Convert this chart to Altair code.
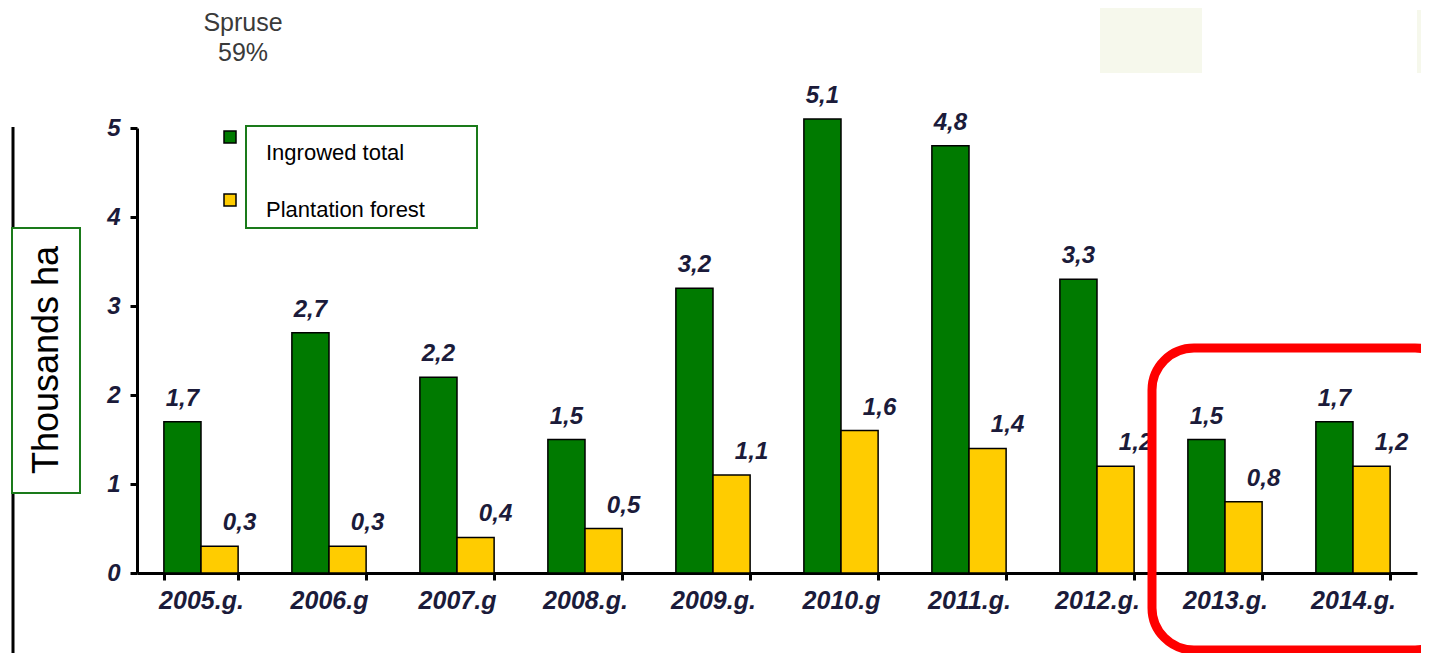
import altair as alt
import pandas as pd

years = ["2005.g.", "2006.g", "2007.g", "2008.g.", "2009.g.", "2010.g", "2011.g.", "2012.g.", "2013.g.", "2014.g."]
ingrowed = [1.7, 2.7, 2.2, 1.5, 3.2, 5.1, 4.8, 3.3, 1.5, 1.7]
plantation = [0.3, 0.3, 0.4, 0.5, 1.1, 1.6, 1.4, 1.2, 0.8, 1.2]
series_names = ["Ingrowed total", "Plantation forest"]
series_colors = ["#007a00", "#ffcc00"]
y_ticks = [0, 1, 2, 3, 4, 5]

rows = []
for yr, a, b in zip(years, ingrowed, plantation):
    rows.append({"year": yr, "series": series_names[0], "value": a, "label": f"{a:.1f}".replace(".", ",")})
    rows.append({"year": yr, "series": series_names[1], "value": b, "label": f"{b:.1f}".replace(".", ",")})
df = pd.DataFrame(rows)

NUM_FONT = "Liberation Sans, Arial, sans-serif"
TXT_FONT = "Liberation Sans, Arial, sans-serif"
NUM_COLOR = "#1b1b3a"

x_enc = alt.X("year:N", sort=years,
              scale=alt.Scale(paddingInner=0.42, paddingOuter=0.21),
              axis=alt.Axis(title=None, labelAngle=0, tickBand="extent",
                            domainWidth=3, domainColor="black", tickWidth=3, tickColor="black",
                            tickSize=7, labelFont=NUM_FONT, labelFontSize=25, labelFontWeight="bold",
                            labelFontStyle="italic", labelColor=NUM_COLOR, labelPadding=8))
y_enc = alt.Y("value:Q", scale=alt.Scale(domain=[0, 5], nice=False),
              axis=alt.Axis(title=None, values=y_ticks, grid=False, domainWidth=3, domainColor="black",
                            tickWidth=3, tickColor="black", tickSize=7, labelFont=NUM_FONT,
                            labelFontSize=24, labelFontWeight="bold", labelFontStyle="italic",
                            labelColor=NUM_COLOR, labelPadding=10))
xoff = alt.XOffset("series:N", sort=series_names, scale=alt.Scale(paddingInner=0, paddingOuter=0))
color = alt.Color("series:N", sort=series_names,
                  scale=alt.Scale(domain=series_names, range=series_colors), legend=None)

base = alt.Chart(df)

bars = base.mark_bar(stroke="black", strokeWidth=1.5).encode(x=x_enc, y=y_enc, xOffset=xoff, color=color)

lab_green = base.transform_filter(alt.datum.series == series_names[0]).mark_text(
    font=NUM_FONT, fontSize=24, fontWeight="bold", fontStyle="italic", color=NUM_COLOR,
    baseline="alphabetic", dy=-16).encode(x=x_enc, y=y_enc, xOffset=xoff, text="label:N")
lab_yellow = base.transform_filter(alt.datum.series == series_names[1]).mark_text(
    font=NUM_FONT, fontSize=24, fontWeight="bold", fontStyle="italic", color=NUM_COLOR,
    baseline="alphabetic", dy=-16, dx=20).encode(x=x_enc, y=y_enc, xOffset=xoff, text="label:N")

one = alt.Data(values=[{}])

# faint background shapes (top right)
bg1 = alt.Chart(one).mark_rect(color="#f6f8ec").encode(
    x=alt.value(963), x2=alt.value(1065), y=alt.value(-128), y2=alt.value(-55))
bg2 = alt.Chart(one).mark_rect(color="#f6f8ec").encode(
    x=alt.value(1280), x2=alt.value(1300), y=alt.value(-118), y2=alt.value(-55))

# title text
title1 = alt.Chart(one).mark_text(text="Spruse", font=TXT_FONT, fontSize=25, color="#3a3a3a",
                                  align="center", baseline="alphabetic").encode(
    x=alt.value(106), y=alt.value(-97))
title2 = alt.Chart(one).mark_text(text="59%", font=TXT_FONT, fontSize=25, color="#3a3a3a",
                                  align="center", baseline="alphabetic").encode(
    x=alt.value(106), y=alt.value(-67))

# left frame line
frame = alt.Chart(one).mark_rule(color="black", strokeWidth=3).encode(
    x=alt.value(-124), y=alt.value(-1), y2=alt.value(540))

# y-title box
ybox = alt.Chart(one).mark_rect(fill="white", stroke="#1a7a1a", strokeWidth=2).encode(
    x=alt.value(-125), x2=alt.value(-57), y=alt.value(100), y2=alt.value(365))
ytitle = alt.Chart(one).mark_text(text="Thousands ha", font=TXT_FONT, fontSize=36, color="black",
                                  angle=270, align="center", baseline="middle").encode(
    x=alt.value(-90), y=alt.value(232))

# legend
leg_box = alt.Chart(one).mark_rect(fill="white", stroke="#1a7a1a", strokeWidth=2).encode(
    x=alt.value(109), x2=alt.value(340), y=alt.value(-2), y2=alt.value(100))
leg_sq1 = alt.Chart(one).mark_rect(fill=series_colors[0], stroke="black", strokeWidth=1.5).encode(
    x=alt.value(87), x2=alt.value(99), y=alt.value(3), y2=alt.value(15))
leg_sq2 = alt.Chart(one).mark_rect(fill=series_colors[1], stroke="black", strokeWidth=1.5).encode(
    x=alt.value(87), x2=alt.value(99), y=alt.value(66), y2=alt.value(78))
leg_t1 = alt.Chart(one).mark_text(text=series_names[0], font=TXT_FONT, fontSize=22, color="black",
                                  align="left", baseline="middle").encode(x=alt.value(129), y=alt.value(25))
leg_t2 = alt.Chart(one).mark_text(text=series_names[1], font=TXT_FONT, fontSize=22, color="black",
                                  align="left", baseline="middle").encode(x=alt.value(129), y=alt.value(82))

# red highlight
red = alt.Chart(one).mark_rect(fill=None, stroke="#ff0000", strokeWidth=9, cornerRadius=42).encode(
    x=alt.value(1015), x2=alt.value(1320), y=alt.value(220), y2=alt.value(522))

chart = alt.layer(bg1, bg2, title1, title2, frame, bars, lab_green, lab_yellow,
                  ybox, ytitle, leg_box, leg_sq1, leg_sq2, leg_t1, leg_t2, red).properties(
    width=1280, height=445,
    background="white",
    autosize=alt.AutoSizeParams(type="none"),
    padding={"left": 129, "top": 120, "right": 4, "bottom": 80},
).configure_view(stroke=None)

chart.save("out.html", embed_options={"renderer": "svg", "actions": False})
